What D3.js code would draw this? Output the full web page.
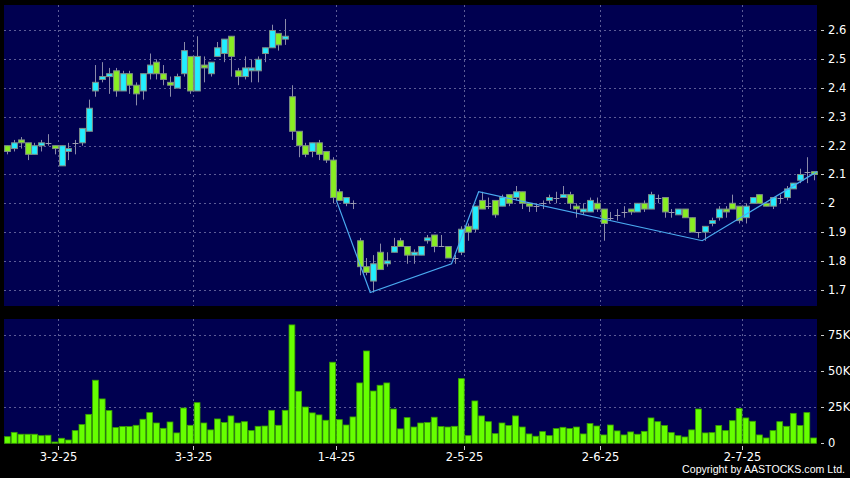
<!DOCTYPE html>
<html>
<head>
<meta charset="utf-8">
<script src="https://cdn.jsdelivr.net/npm/d3@7"></script>
<style>
  html, body { margin: 0; padding: 0; background: #000; }
  svg { display: block; }
  text { font-family: "DejaVu Sans", sans-serif; fill: #fff; }
</style>
</head>
<body>
<svg id="chart" width="850" height="478"></svg>
<script>
// ---------- DATA ----------
const openP  = [2.20,2.19,2.22,2.21,2.17,2.20,2.21,2.20,2.13,2.18,2.21,2.21,2.25,2.39,2.43,2.44,2.46,2.39,2.45,2.41,
                2.39,2.45,2.49,2.45,2.42,2.40,2.45,2.51,2.39,2.48,2.45,2.51,2.52,2.58,2.46,2.44,2.46,2.46,2.52,2.54,
                2.59,2.57,2.37,2.25,2.20,2.18,2.21,2.18,2.15,2.04,2.00,2.00,1.87,1.78,1.73,1.83,1.79,1.83,1.87,1.85,
                1.82,1.82,1.87,1.89,1.85,1.85,1.81,1.83,1.92,1.91,2.01,1.99,2.01,1.99,2.03,2.02,2.04,2.00,1.99,2.00,
                2.01,2.02,2.02,2.03,1.99,1.97,1.97,2.00,1.98,1.95,1.96,1.97,1.98,1.97,2.00,1.98,2.02,2.02,1.97,1.96,
                1.98,1.95,1.90,1.90,1.93,1.95,1.98,2.00,1.99,1.95,2.00,2.03,2.00,1.99,2.02,2.02,2.05,2.08,2.11,2.11];
const highP  = [2.20,2.22,2.23,2.21,2.21,2.22,2.24,2.20,2.20,2.21,2.22,2.26,2.36,2.48,2.49,2.47,2.47,2.46,2.46,2.42,
                2.45,2.52,2.50,2.48,2.44,2.45,2.56,2.51,2.58,2.51,2.49,2.56,2.57,2.58,2.47,2.51,2.50,2.51,2.54,2.62,
                2.59,2.64,2.41,2.25,2.21,2.21,2.22,2.18,2.16,2.05,2.02,2.01,1.88,1.81,1.82,1.86,1.83,1.88,1.88,1.85,
                1.84,1.85,1.89,1.89,1.89,1.85,1.82,1.92,1.93,1.99,2.04,2.02,2.01,2.03,2.03,2.06,2.04,2.00,2.00,2.01,
                2.03,2.04,2.06,2.04,2.00,2.00,2.02,2.02,1.98,1.97,1.98,1.99,1.98,2.00,2.01,2.04,2.03,2.02,1.98,1.98,
                1.98,1.95,1.90,1.92,1.95,1.99,1.99,2.03,1.99,2.00,2.02,2.03,2.00,2.02,2.03,2.06,2.07,2.12,2.16,2.11];
const lowP   = [2.17,2.18,2.19,2.15,2.17,2.18,2.20,2.17,2.13,2.15,2.17,2.20,2.25,2.37,2.42,2.38,2.37,2.39,2.38,2.34,
                2.36,2.43,2.43,2.41,2.37,2.40,2.44,2.38,2.39,2.42,2.44,2.51,2.49,2.44,2.41,2.43,2.42,2.42,2.49,2.54,
                2.53,2.55,2.22,2.16,2.16,2.16,2.15,2.14,2.00,2.01,1.99,1.98,1.75,1.75,1.69,1.77,1.78,1.83,1.85,1.79,
                1.79,1.82,1.86,1.83,1.85,1.81,1.79,1.82,1.87,1.90,1.98,1.98,1.95,1.99,1.99,2.01,1.98,1.97,1.97,1.98,
                2.00,2.00,2.02,1.98,1.95,1.96,1.97,1.97,1.87,1.94,1.94,1.95,1.96,1.97,1.97,1.98,2.00,1.95,1.95,1.96,
                1.95,1.90,1.88,1.87,1.92,1.94,1.95,1.98,1.93,1.93,2.00,2.00,1.99,1.98,2.00,2.01,2.05,2.07,2.07,2.08];
const closeP = [2.18,2.21,2.21,2.17,2.20,2.21,2.21,2.19,2.20,2.19,2.21,2.26,2.33,2.42,2.44,2.45,2.39,2.45,2.41,2.38,
                2.45,2.48,2.45,2.43,2.41,2.44,2.53,2.39,2.51,2.47,2.49,2.54,2.57,2.51,2.44,2.47,2.47,2.50,2.54,2.60,
                2.55,2.58,2.25,2.20,2.17,2.21,2.17,2.15,2.02,2.01,2.02,2.00,1.78,1.76,1.79,1.77,1.80,1.85,1.85,1.82,
                1.83,1.85,1.88,1.85,1.85,1.81,1.81,1.91,1.90,1.99,1.98,1.99,1.96,2.02,2.00,2.04,2.00,1.99,1.99,2.00,
                2.02,2.02,2.03,2.00,1.98,1.98,2.01,1.98,1.93,1.95,1.96,1.97,1.97,2.00,1.98,2.03,2.02,1.97,1.97,1.98,
                1.95,1.90,1.90,1.92,1.94,1.98,1.97,1.98,1.94,1.99,2.02,2.00,1.99,2.02,2.02,2.05,2.07,2.10,2.11,2.10];
const volume = [4600,7600,6300,6300,6300,5300,5600,900,3500,2300,8800,13000,20100,43800,30800,22700,10900,11600,11600,12500,
                16700,21300,14100,10400,14800,7200,24500,12500,28200,14100,9300,16900,14400,19000,14100,15000,8800,11800,12000,22900,
                12500,22900,82200,36100,25200,21100,19700,16000,56300,16400,12700,18300,41900,64100,36300,40300,41900,23800,10000,17800,
                11300,14100,14400,18100,11600,11300,11800,44900,5300,29400,19000,15000,6700,14100,12300,19000,11300,6500,4900,8100,
                5300,10200,11100,10200,11300,6500,13700,12000,5800,12700,8600,5800,7900,6300,8300,17600,15000,12300,7400,5300,
                4400,9300,23800,7200,7400,12300,8800,15700,24100,17600,15300,5800,3700,8800,15000,11800,20800,12300,21300,3700];
// zig-zag indicator turning points: [bar index, price]
const zigIndex = [49, 54, 66, 70, 103, 119];
const zigValue = [2.01, 1.69, 1.79, 2.04, 1.87, 2.11];
// x-axis ticks (bar index of first trading day of month)
const monthIndex  = [7, 27, 48, 67, 87, 108];
const monthLabels = ["3-2-25", "3-3-25", "1-4-25", "2-5-25", "2-6-25", "2-7-25"];
const priceTicks = [1.7, 1.8, 1.9, 2.0, 2.1, 2.2, 2.3, 2.4, 2.5, 2.6];
const priceTickLabels = ["1.7", "1.8", "1.9", "2", "2.1", "2.2", "2.3", "2.4", "2.5", "2.6"];
const volTicks = [0, 25000, 50000, 75000];
const volTickLabels = ["0", "25K", "50K", "75K"];

// ---------- LAYOUT ----------
const svg = d3.select("#chart");
const L = 4, R = 817;
const pTop = 5, pBot = 306;
const vTop = 319, vBot = 443.3;
const NAVY = "#000050";
const GRID = "#5c5c96";
const UP = "#22eeff", DOWN = "#88ee22";

const n = closeP.length;
const x = d3.scaleBand().domain(d3.range(n)).range([L, R]).paddingInner(0.14).paddingOuter(0.07);
const cx = i => x(i) + x.bandwidth() / 2;
const y = d3.scaleLinear().domain([1.6434, 2.6885]).range([pBot, pTop]);
const yv = d3.scaleLinear().domain([0, 86300]).range([vBot, vTop]);

// panels
svg.append("rect").attr("x", L).attr("y", pTop).attr("width", R - L).attr("height", pBot - pTop).attr("fill", NAVY);
svg.append("rect").attr("x", L).attr("y", vTop).attr("width", R - L).attr("height", vBot - vTop).attr("fill", NAVY);

// grid: horizontal
const gp = svg.append("g");
gp.selectAll("line.hp").data(priceTicks).join("line")
  .attr("x1", L).attr("x2", R)
  .attr("y1", d => Math.round(y(d)) + 0.5).attr("y2", d => Math.round(y(d)) + 0.5)
  .attr("stroke", GRID).attr("stroke-dasharray", "2,3");
gp.selectAll("line.hv").data(volTicks.slice(1)).join("line")
  .attr("x1", L).attr("x2", R)
  .attr("y1", d => Math.round(yv(d)) + 0.5).attr("y2", d => Math.round(yv(d)) + 0.5)
  .attr("stroke", GRID).attr("stroke-dasharray", "2,3");
// grid: vertical
const gx = i => Math.round(cx(i) + 3) + 0.5;
[[pTop, pBot], [vTop, vBot]].forEach(([a, b]) => {
  svg.append("g").selectAll("line").data(monthIndex).join("line")
    .attr("x1", gx).attr("x2", gx).attr("y1", a).attr("y2", b)
    .attr("stroke", GRID).attr("stroke-dasharray", "2,3");
});

// candles
const bw = x.bandwidth();
const cg = svg.append("g");
d3.range(n).forEach(i => {
  const o = openP[i], c = closeP[i], h = highP[i], l = lowP[i];
  const xc = Math.round(cx(i)) + 0.5;
  cg.append("line").attr("x1", xc).attr("x2", xc)
    .attr("y1", y(h)).attr("y2", y(l)).attr("stroke", "#8a8aa8").attr("stroke-width", 1);
  if (o === c) {
    cg.append("line").attr("x1", xc - bw / 2).attr("x2", xc + bw / 2)
      .attr("y1", Math.round(y(c)) + 0.5).attr("y2", Math.round(y(c)) + 0.5)
      .attr("stroke", "#9a9ab0").attr("stroke-width", 1);
  } else {
    const top = y(Math.max(o, c)), bot = y(Math.min(o, c));
    cg.append("rect").attr("x", xc - bw / 2).attr("y", top)
      .attr("width", bw).attr("height", Math.max(1, bot - top))
      .attr("fill", c > o ? UP : DOWN).attr("stroke", "#7f8f86").attr("stroke-width", 1);
  }
});

// zig-zag line
const zz = d3.line().x(d => Math.min(R, cx(d[0]) - 3 + (d[0] === n - 1 ? 9 : 0))).y(d => y(d[1]));
svg.append("path").datum(zigIndex.map((d, k) => [d, zigValue[k]]))
  .attr("d", zz).attr("fill", "none").attr("stroke", "#4aaaf0").attr("stroke-width", 1.2);

// volume bars
svg.append("g").selectAll("rect").data(volume).join("rect")
  .attr("x", (d, i) => x(i)).attr("y", d => yv(d))
  .attr("width", bw).attr("height", d => vBot - yv(d))
  .attr("fill", "#66ff00").attr("stroke", "#3aa000").attr("stroke-width", 0.8);

// y-axis labels (price)
const ay = svg.append("g");
ay.selectAll("line").data(priceTicks).join("line")
  .attr("x1", 821).attr("x2", 824).attr("y1", d => Math.round(y(d)) + 0.5).attr("y2", d => Math.round(y(d)) + 0.5)
  .attr("stroke", "#ccc");
ay.selectAll("text").data(priceTicks).join("text")
  .attr("x", 828).attr("y", d => y(d) + 4).attr("font-size", 11.5)
  .text((d, k) => priceTickLabels[k]);
// y-axis labels (volume)
const av = svg.append("g");
av.selectAll("line").data(volTicks).join("line")
  .attr("x1", 821).attr("x2", 824).attr("y1", d => Math.round(yv(d)) + 0.5).attr("y2", d => Math.round(yv(d)) + 0.5)
  .attr("stroke", "#ccc");
av.selectAll("text").data(volTicks).join("text")
  .attr("x", 828).attr("y", d => yv(d) + 4).attr("font-size", 11.5)
  .text((d, k) => volTickLabels[k]);

// x-axis labels
const ax = svg.append("g");
ax.selectAll("line").data(monthIndex).join("line")
  .attr("x1", gx).attr("x2", gx).attr("y1", 446).attr("y2", 450).attr("stroke", "#ccc");
ax.selectAll("text").data(monthIndex).join("text")
  .attr("x", i => gx(i)).attr("y", 461).attr("text-anchor", "middle").attr("font-size", 11.5)
  .text((d, k) => monthLabels[k]);

// copyright
svg.append("text").attr("x", 845).attr("y", 473).attr("text-anchor", "end")
  .style("font-family", "'Liberation Sans', Arial, sans-serif")
  .attr("font-size", 10.6)
  .text("Copyright by AASTOCKS.com Ltd.");
</script>
</body>
</html>
